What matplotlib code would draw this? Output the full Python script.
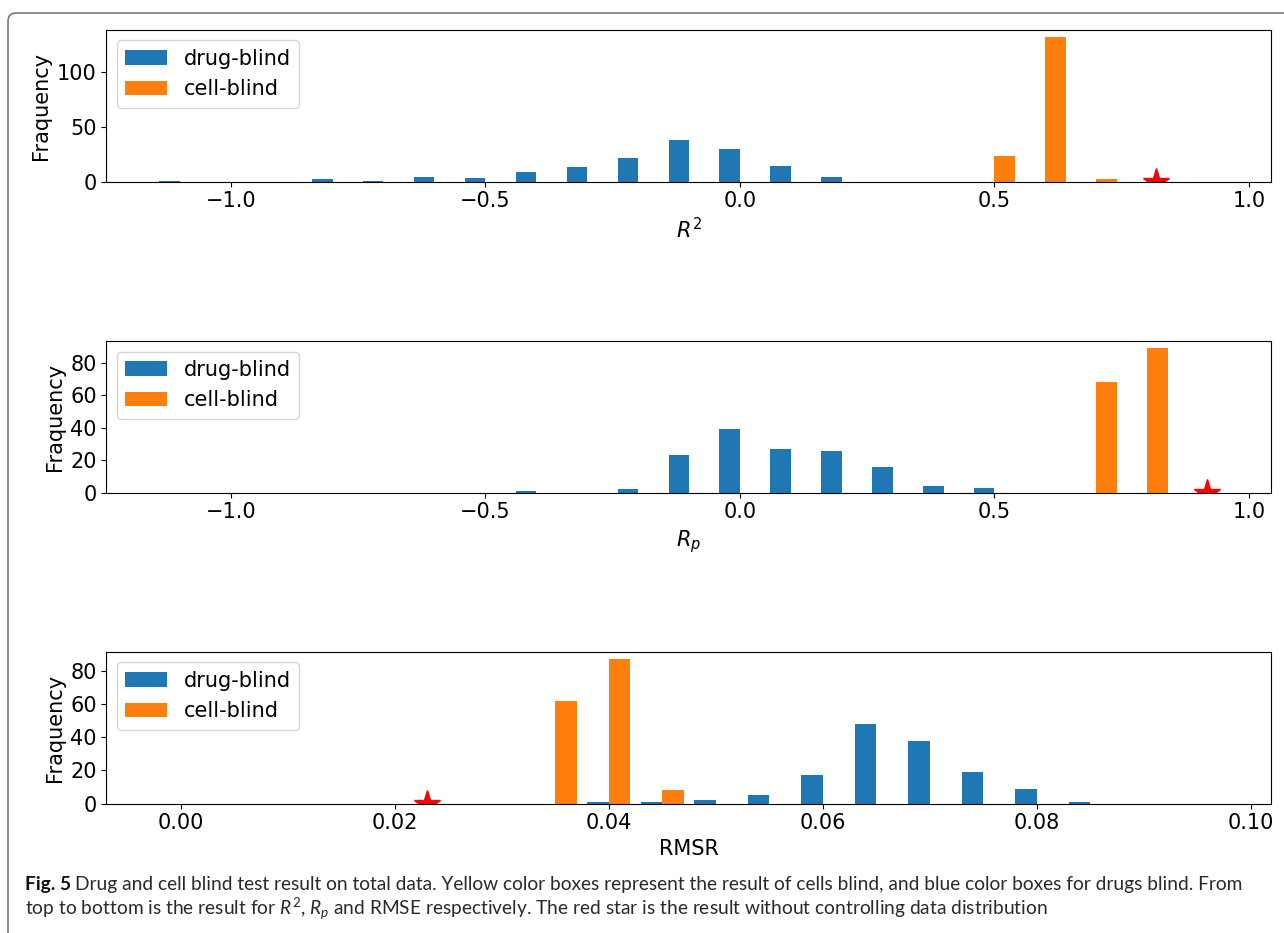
import numpy as np
import matplotlib.pyplot as plt
from matplotlib.patches import FancyBboxPatch
from matplotlib.transforms import IdentityTransform

# bin edges: R^2 / Rp share 21 bins of width 0.1, RMSR uses 20 bins of width 0.005
corr_edges = np.linspace(-1.15, 0.95, 22)
rmsr_edges = np.linspace(-0.0025, 0.0975, 21)

# counts per bin
r2_drug = [1, 0, 0, 2, 1, 4, 3, 9, 13, 22, 38, 30, 14, 4, 0, 0, 0, 0, 0, 0, 0]
r2_cell = [0, 0, 0, 0, 0, 0, 0, 0, 0, 0, 0, 0, 0, 0, 0, 0, 23, 132, 2, 0, 0]
rp_drug = [0, 0, 0, 0, 0, 0, 0, 1, 0, 2, 23, 39, 27, 26, 16, 4, 3, 0, 0, 0, 0]
rp_cell = [0, 0, 0, 0, 0, 0, 0, 0, 0, 0, 0, 0, 0, 0, 0, 0, 0, 0, 68, 89, 0]
rmsr_drug = [0, 0, 0, 0, 0, 0, 0, 0, 1, 1, 2, 5, 17, 48, 38, 19, 9, 1, 0, 0]
rmsr_cell = [0, 0, 0, 0, 0, 0, 0, 62, 87, 8, 0, 0, 0, 0, 0, 0, 0, 0, 0, 0]

# result without controlling data distribution
star_r2 = 0.818
star_rp = 0.918
star_rmsr = 0.023

labels = ['drug-blind', 'cell-blind']
colors = ['#1f77b4', '#ff7f0e']

plt.rcParams['font.size'] = 15
plt.rcParams['mathtext.rm'] = 'Lato'
plt.rcParams['mathtext.it'] = 'Lato:italic'
plt.rcParams['mathtext.bf'] = 'Lato:bold'

fig = plt.figure(figsize=(12.84, 9.33), dpi=100)

panels = [
    (corr_edges, r2_drug, r2_cell, star_r2, r'$R^2$', [0, 50, 100],
     [-1.0, -0.5, 0.0, 0.5, 1.0], 0.8053),
    (corr_edges, rp_drug, rp_cell, star_rp, r'$R_p$', [0, 20, 40, 60, 80],
     [-1.0, -0.5, 0.0, 0.5, 1.0], 0.4719),
    (rmsr_edges, rmsr_drug, rmsr_cell, star_rmsr, 'RMSR', [0, 20, 40, 60, 80],
     [0.0, 0.02, 0.04, 0.06, 0.08, 0.10], 0.1386),
]

for edges, drug, cell, star, xlabel, yticks, xticks, bottom in panels:
    ax = fig.add_axes([0.0829, bottom, 0.9073, 0.1625])
    centers = (edges[:-1] + edges[1:]) / 2
    ax.hist([centers, centers], bins=edges, weights=[drug, cell],
            label=labels, color=colors)
    ax.plot(star, 0, '*', color='red', markersize=20)
    ax.set_xticks(xticks)
    ax.set_yticks(yticks)
    ax.set_xlabel(xlabel)
    ax.set_ylabel('Fraquency')
    ax.legend(loc='upper left')

# rounded frame around the figure panel
frame = FancyBboxPatch((8, -40), 1320, 960,
                       boxstyle='round,pad=0,rounding_size=8',
                       transform=IdentityTransform(), facecolor='none',
                       edgecolor='#7a7a7a', linewidth=1.2)
fig.patches.append(frame)

# caption: bold figure number followed by the description
cap_size = 13.8
head = fig.text(0.0195, 0.0461, 'Fig. 5', family='Lato', fontweight='bold',
                fontsize=cap_size, color='#111111', va='baseline')
fig.canvas.draw()
head_box = head.get_window_extent(fig.canvas.get_renderer())
x_after = (head_box.x1 + 4) / fig.bbox.width

fig.text(x_after, 0.0461,
         'Drug and cell blind test result on total data. Yellow color boxes '
         'represent the result of cells blind, and blue color boxes for drugs '
         'blind. From',
         family='Lato', fontsize=cap_size, color='#2a2a2a', va='baseline')
fig.text(0.0195, 0.0193,
         r'top to bottom is the result for $R^2$, $R_p$ and RMSE respectively. '
         'The red star is the result without controlling data distribution',
         family='Lato', fontsize=cap_size, color='#2a2a2a',
         math_fontfamily='custom', va='baseline')

fig.savefig('out.png', dpi=100)
